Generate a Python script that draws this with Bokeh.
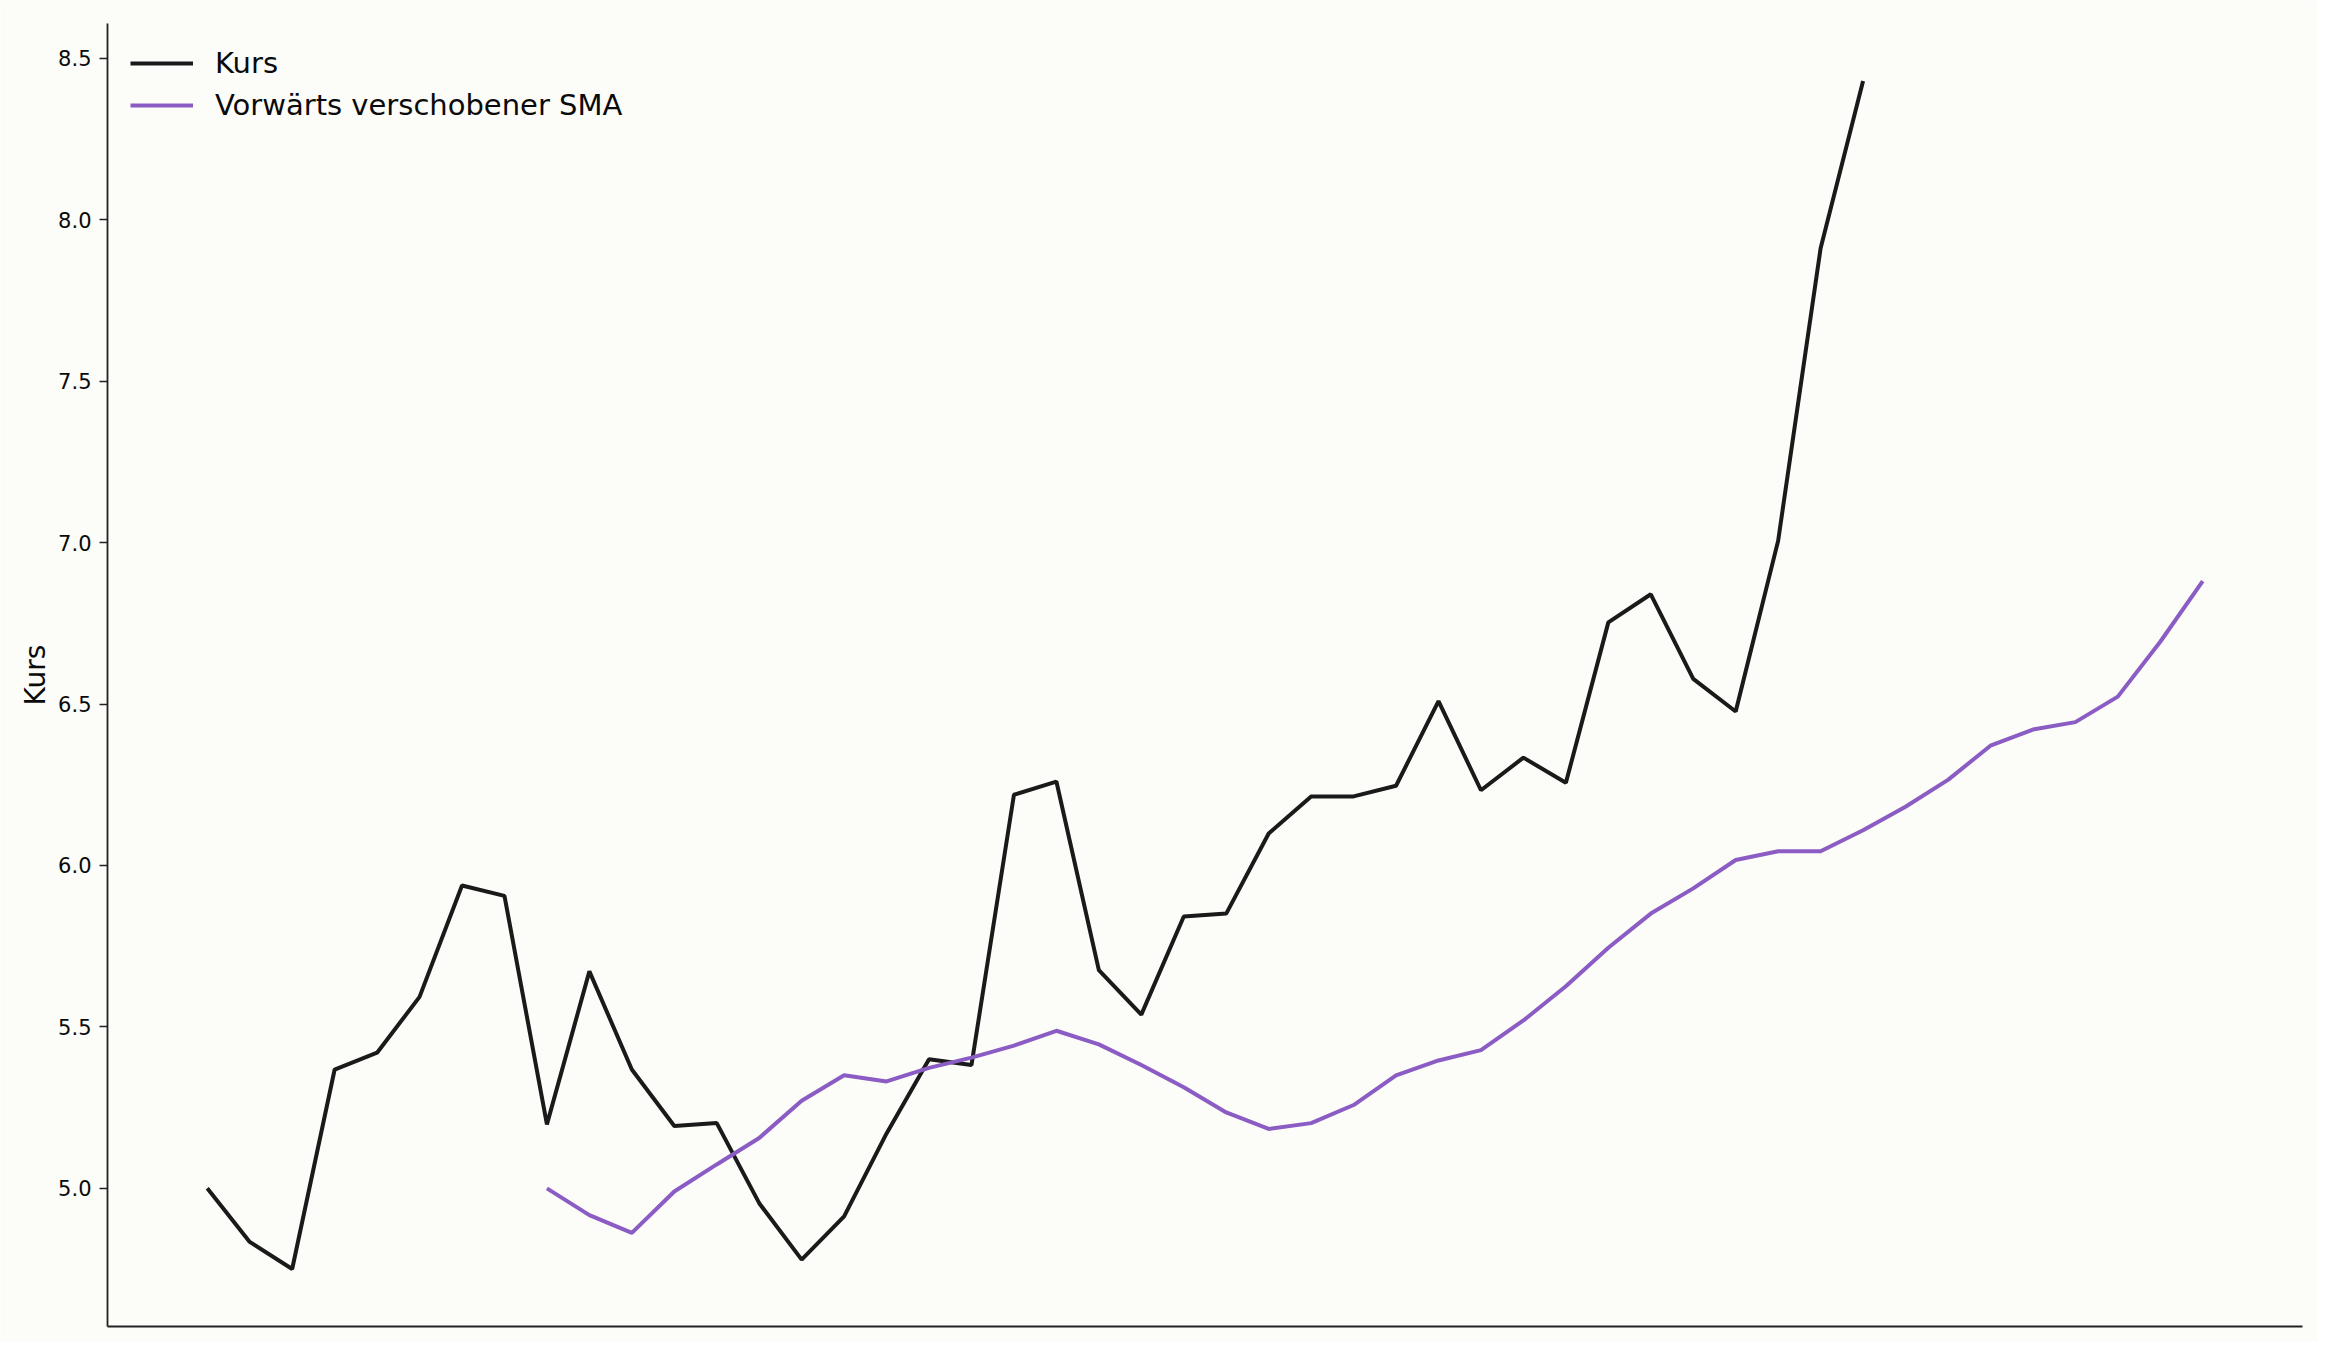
from bokeh.plotting import figure
from bokeh.models import Range1d, Legend, LegendItem, FixedTicker, PrintfTickFormatter
from bokeh.embed import file_html
from bokeh.resources import INLINE

# --- data ---
kurs_x = list(range(0, 40))
kurs = [5.00, 4.834, 4.750, 5.368, 5.420, 5.593, 5.938, 5.906, 5.198, 5.672,
        5.368, 5.193, 5.202, 4.954, 4.779, 4.913, 5.170, 5.400, 5.382, 6.219,
        6.260, 5.676, 5.538, 5.842, 5.851, 6.099, 6.214, 6.214, 6.247, 6.509,
        6.233, 6.334, 6.256, 6.753, 6.840, 6.578, 6.477, 7.006, 7.912, 8.430]

sma_x = list(range(8, 48))
sma = [5.000, 4.917, 4.862, 4.990, 5.074, 5.156, 5.271, 5.350, 5.331, 5.373,
       5.405, 5.442, 5.488, 5.446, 5.382, 5.313, 5.235, 5.184, 5.202, 5.258,
       5.350, 5.396, 5.428, 5.520, 5.626, 5.745, 5.851, 5.929, 6.017, 6.044,
       6.044, 6.109, 6.182, 6.265, 6.371, 6.421, 6.444, 6.523, 6.693, 6.881]

labels = ["Kurs", "Vorwärts verschobener SMA"]
colors = ["#1a1a1a", "#8a5cc4"]
y_label = "Kurs"
y_ticks = [5.0, 5.5, 6.0, 6.5, 7.0, 7.5, 8.0, 8.5]

BG = "#fcfcf8"
FONT = "DejaVu Sans"

p = figure(width=2317, height=1342, output_backend="svg", toolbar_location=None,
           x_range=Range1d(-2.35, 49.35), y_range=Range1d(4.572, 8.608),
           min_border_left=107, min_border_right=15, min_border_top=23,
           min_border_bottom=16)
p.background_fill_color = BG
p.border_fill_color = BG
p.outline_line_color = None
p.grid.visible = False

# y axis
ya = p.yaxis[0]
ya.ticker = FixedTicker(ticks=y_ticks)
ya.formatter = PrintfTickFormatter(format="%.1f")
ya.minor_tick_line_color = None
ya.major_tick_out = 8
ya.major_tick_in = 0
ya.major_tick_line_width = 1.5
ya.major_tick_line_color = "#222222"
ya.axis_line_color = "#222222"
ya.axis_line_width = 1.8
ya.major_label_text_font = FONT
ya.major_label_text_font_size = "21px"
ya.major_label_text_color = "#0a0a0a"
ya.major_label_standoff = 8
ya.axis_label = y_label
ya.axis_label_text_font = FONT
ya.axis_label_text_font_size = "28px"
ya.axis_label_text_font_style = "normal"
ya.axis_label_text_color = "#0a0a0a"
ya.axis_label_standoff = 3

# x axis: spine only
xa = p.xaxis[0]
xa.ticker = FixedTicker(ticks=[])
xa.minor_tick_line_color = None
xa.major_tick_line_color = None
xa.major_label_text_font_size = "0px"
xa.axis_line_color = "#222222"
xa.axis_line_width = 1.8

r1 = p.line(kurs_x, kurs, line_color=colors[0], line_width=4)
r2 = p.line(sma_x, sma, line_color=colors[1], line_width=4)

legend = Legend(items=[LegendItem(label=labels[0], renderers=[r1]),
                       LegendItem(label=labels[1], renderers=[r2])],
                location="top_left")
legend.background_fill_alpha = 0
legend.border_line_color = None
legend.label_text_font = FONT
legend.label_text_font_size = "29px"
legend.label_text_color = "#0a0a0a"
legend.glyph_width = 63
legend.glyph_height = 34
legend.label_height = 34
legend.label_standoff = 22
legend.spacing = 8
legend.padding = 0
legend.margin = 23
p.add_layout(legend)

open("out.html", "w").write(file_html(p, INLINE))
